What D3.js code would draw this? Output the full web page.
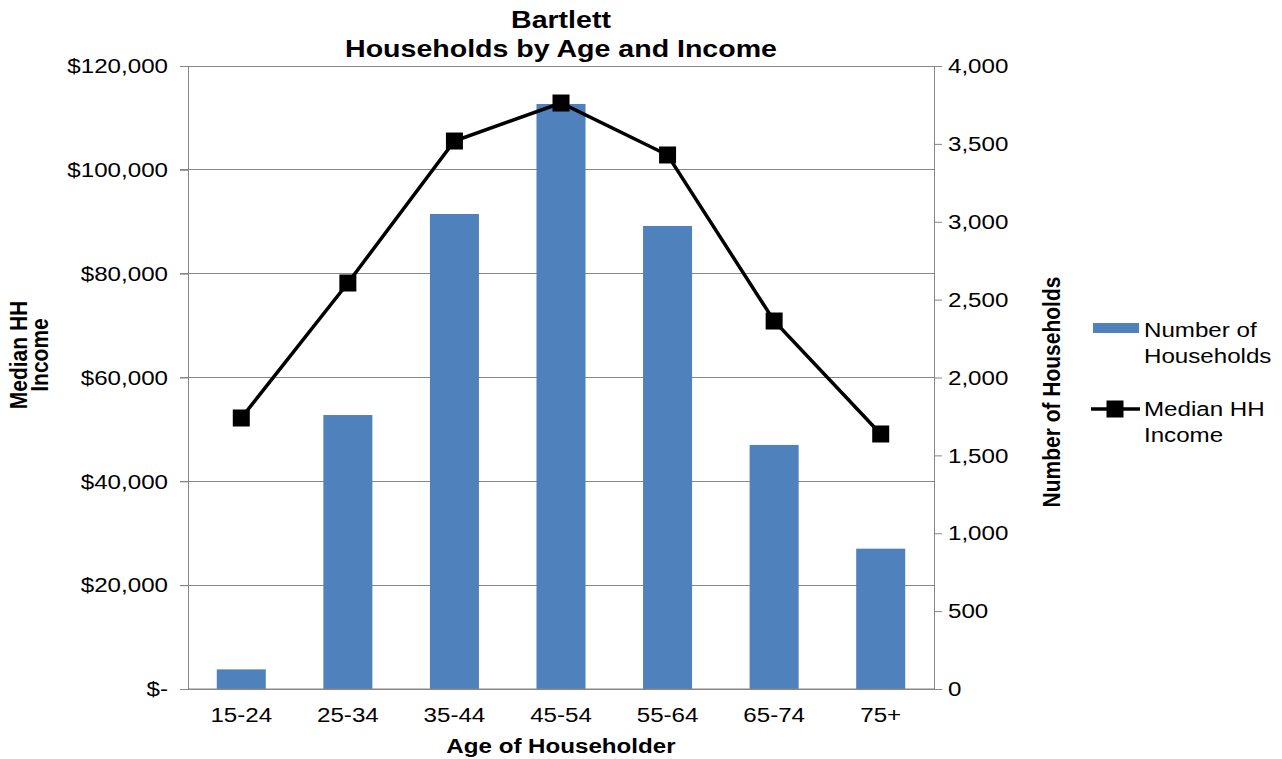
<!DOCTYPE html>
<html>
<head>
<meta charset="utf-8">
<script src="https://cdn.jsdelivr.net/npm/d3@7"></script>
<style>
  html, body { margin: 0; padding: 0; background: #fff; }
  svg { display: block; font-family: "Liberation Sans", Arial, sans-serif; }
  /* Labels are drawn slightly wide, anchored where they sit */
  text.sx { transform-box: fill-box; transform: scaleX(1.15); }
  text.sx.wide { transform: scaleX(1.19); }
  text.sx.end { transform-origin: right center; }
  text.sx.mid { transform-origin: center center; }
  text.sx.start { transform-origin: left center; }
</style>
</head>
<body>
<svg id="chart" width="1282" height="759"></svg>
<script>
// Age groups of the householder
const ageGroups = ["15-24", "25-34", "35-44", "45-54", "55-64", "65-74", "75+"];
// Number of households per age group (right axis)
const households = [126, 1759, 3050, 3756, 2973, 1567, 901];
// Median household income per age group (left axis)
const medianIncome = [52200, 78200, 105550, 112870, 102860, 70880, 49120];
// Axis ticks
const incomeTicks = [0, 20000, 40000, 60000, 80000, 100000, 120000];
const householdTicks = [0, 500, 1000, 1500, 2000, 2500, 3000, 3500, 4000];

const svg = d3.select("#chart");
const plot = { left: 188, right: 934, top: 66, bottom: 689 };
const barColor = "#4f81bd";
const gridColor = "#878787";
const fontSize = 21;

const x = d3.scaleBand().domain(ageGroups).range([plot.left, plot.right]).paddingInner(0.54).paddingOuter(0.27);
const yIncome = d3.scaleLinear().domain([0, 120000]).range([plot.bottom, plot.top]);
const yHouse = d3.scaleLinear().domain([0, 4000]).range([plot.bottom, plot.top]);

const fmtIncome = v => v === 0 ? "$-" : "$" + d3.format(",")(v);

// Horizontal gridlines
svg.append("g")
  .selectAll("line")
  .data(incomeTicks)
  .join("line")
  .attr("x1", plot.left - 8).attr("x2", plot.right)
  .attr("y1", d => yIncome(d)).attr("y2", d => yIncome(d))
  .attr("stroke", gridColor).attr("stroke-width", 1)
  .attr("shape-rendering", "crispEdges");

// Bars
svg.append("g")
  .selectAll("rect")
  .data(ageGroups.map((g, i) => ({ g, v: households[i] })))
  .join("rect")
  .attr("x", d => x(d.g))
  .attr("width", x.bandwidth())
  .attr("y", d => yHouse(d.v))
  .attr("height", d => plot.bottom - yHouse(d.v))
  .attr("fill", barColor);

function styleTicks(g, cls) {
  g.select(".domain").attr("stroke", gridColor);
  g.selectAll(".tick line").attr("stroke", gridColor);
  g.selectAll("text")
    .attr("class", "sx " + cls)
    .attr("font-size", fontSize).attr("fill", "#000")
    .attr("font-family", "Liberation Sans, Arial, sans-serif");
}

// Left axis
const leftAxis = svg.append("g")
  .attr("transform", `translate(${plot.left},0)`)
  .call(d3.axisLeft(yIncome).tickValues(incomeTicks).tickFormat(fmtIncome).tickSize(8).tickPadding(12));
styleTicks(leftAxis, "end");

// Right axis
const rightAxis = svg.append("g")
  .attr("transform", `translate(${plot.right},0)`)
  .call(d3.axisRight(yHouse).tickValues(householdTicks).tickFormat(d3.format(",")).tickSize(8).tickPadding(6));
styleTicks(rightAxis, "start");

// Bottom axis
const bottomAxis = svg.append("g")
  .attr("transform", `translate(0,${plot.bottom})`)
  .call(d3.axisBottom(x).tickSize(0).tickPadding(18));
bottomAxis.select(".domain").attr("d", `M${plot.left},0H${plot.right}`);
styleTicks(bottomAxis, "mid");

// Income line with square markers
const cx = g => x(g) + x.bandwidth() / 2;
const line = d3.line().x((d, i) => cx(ageGroups[i])).y(d => yIncome(d));
svg.append("path")
  .datum(medianIncome)
  .attr("d", line)
  .attr("fill", "none")
  .attr("stroke", "#000")
  .attr("stroke-width", 3.5);
const ms = 17;
svg.append("g")
  .selectAll("rect")
  .data(medianIncome)
  .join("rect")
  .attr("x", (d, i) => cx(ageGroups[i]) - ms / 2)
  .attr("y", d => yIncome(d) - ms / 2)
  .attr("width", ms).attr("height", ms)
  .attr("fill", "#000");

// Titles
svg.append("text").attr("class", "sx wide mid")
  .attr("x", 561).attr("y", 28)
  .attr("text-anchor", "middle")
  .attr("font-weight", "bold").attr("font-size", 24)
  .text("Bartlett");
svg.append("text").attr("class", "sx wide mid")
  .attr("x", 561).attr("y", 57)
  .attr("text-anchor", "middle")
  .attr("font-weight", "bold").attr("font-size", 24)
  .text("Households by Age and Income");

svg.append("text").attr("class", "sx mid")
  .attr("x", (plot.left + plot.right) / 2).attr("y", 753)
  .attr("text-anchor", "middle")
  .attr("font-weight", "bold").attr("font-size", fontSize)
  .text("Age of Householder");

// Rotated axis titles (stretched across the page's horizontal direction)
const leftTitle = svg.append("g")
  .attr("transform", "translate(27,355) scale(1.15,1) rotate(-90)")
  .append("text")
  .attr("text-anchor", "middle")
  .attr("font-weight", "bold").attr("font-size", fontSize);
leftTitle.append("tspan").attr("x", 0).attr("y", 0).text("Median HH");
leftTitle.append("tspan").attr("x", 0).attr("y", 18).text("Income");

svg.append("g")
  .attr("transform", "translate(1060,392) scale(1.15,1) rotate(-90)")
  .append("text")
  .attr("text-anchor", "middle")
  .attr("font-weight", "bold").attr("font-size", fontSize)
  .text("Number of Households");

// Legend
const legend = svg.append("g");
legend.append("rect")
  .attr("x", 1093).attr("y", 323).attr("width", 46).attr("height", 10)
  .attr("fill", barColor);
[["Number of", 337], ["Households", 363], ["Median HH", 416], ["Income", 442]].forEach(([t, yy]) => {
  legend.append("text").attr("class", "sx start")
    .attr("x", 1144).attr("y", yy)
    .attr("font-size", fontSize)
    .text(t);
});
legend.append("line")
  .attr("x1", 1091).attr("x2", 1140).attr("y1", 409).attr("y2", 409)
  .attr("stroke", "#000").attr("stroke-width", 3.5);
legend.append("rect")
  .attr("x", 1115 - ms / 2).attr("y", 409 - ms / 2).attr("width", ms).attr("height", ms)
  .attr("fill", "#000");
</script>
</body>
</html>
